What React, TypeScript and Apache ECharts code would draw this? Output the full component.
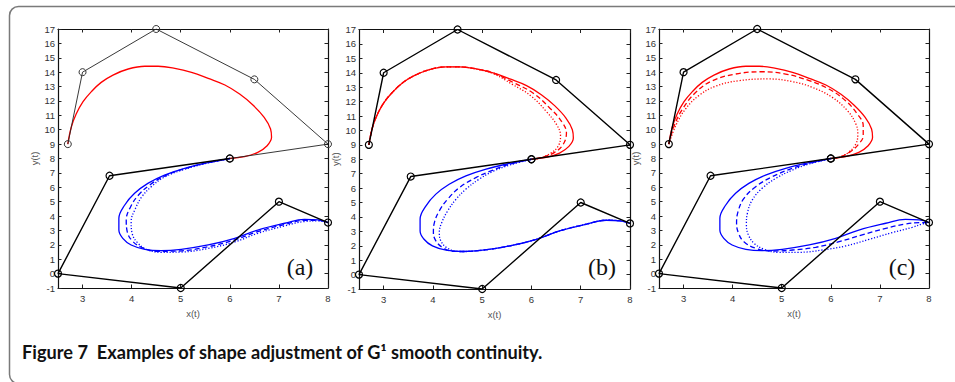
import React, { useEffect, useRef } from "react";
import * as echarts from "echarts";

// ---- data ----
const xTicks = [3, 4, 5, 6, 7, 8];
const panelLabels = ["(a)", "(b)", "(c)"];
const captionText = "Figure 7  Examples of shape adjustment of G¹ smooth continuity.";

const upperPolygon = [[2.7, 9], [3, 14], [4.5, 17], [6.5, 13.5], [8, 9], [6, 8]];
const lowerPolygon = [[6, 8], [3.55, 6.8], [2.5, 0], [5, -1], [7, 5], [8, 3.55]];

const redSolid = [
  [2.7, 9], [2.77, 10.17], [2.87, 11.09], [3.01, 11.95], [3.18, 12.65], [3.38, 13.29],
  [3.62, 13.8], [3.93, 14.22], [4.27, 14.41], [4.54, 14.41], [4.88, 14.27], [5.22, 13.99],
  [5.56, 13.57], [5.9, 13.11], [6.2, 12.48], [6.47, 11.72], [6.7, 10.86], [6.83, 10.05],
  [6.85, 9.47], [6.76, 8.89], [6.57, 8.43], [6.3, 8.13], [6, 8],
];
const redDashedB = [
  [2.7, 9], [2.77, 10.17], [2.87, 11.09], [3.01, 11.95], [3.18, 12.65], [3.38, 13.29],
  [3.62, 13.8], [3.93, 14.22], [4.27, 14.41], [4.54, 14.41], [4.88, 14.27], [5.22, 13.99],
  [5.62, 13.34], [6.03, 12.6], [6.37, 11.56], [6.61, 10.63], [6.71, 9.82], [6.64, 9.01],
  [6.47, 8.48], [6.23, 8.15], [6, 8],
];
const redDottedB = [
  [2.7, 9], [2.77, 10.17], [2.87, 11.09], [3.01, 11.95], [3.18, 12.65], [3.38, 13.29],
  [3.62, 13.8], [3.93, 14.22], [4.27, 14.41], [4.54, 14.41], [4.88, 14.25], [5.22, 13.95],
  [5.62, 13.18], [6.0, 12.37], [6.3, 11.32], [6.51, 10.4], [6.59, 9.63], [6.54, 8.89],
  [6.37, 8.38], [6.17, 8.08], [6, 8],
];
const redDashedC = [
  [2.7, 9], [2.81, 10.28], [2.98, 11.44], [3.25, 12.6], [3.59, 13.41], [4.06, 13.87],
  [4.6, 14.03], [5.08, 13.87], [5.56, 13.41], [5.96, 12.83], [6.3, 12.02], [6.54, 11.09],
  [6.66, 10.28], [6.66, 9.59], [6.57, 9.01], [6.4, 8.48], [6.2, 8.13], [6, 8],
];
const redDottedC = [
  [2.7, 9], [2.84, 10.28], [3.04, 11.44], [3.31, 12.37], [3.65, 13.02], [4.13, 13.41],
  [4.74, 13.53], [5.22, 13.34], [5.62, 12.95], [6.03, 12.25], [6.34, 11.32], [6.51, 10.4],
  [6.55, 9.7], [6.51, 9.01], [6.36, 8.43], [6.17, 8.08], [6, 8],
];

const blueSolid = [
  [6, 8], [5.56, 7.71], [5.08, 7.32], [4.67, 6.85], [4.33, 6.27], [4.06, 5.58], [3.86, 4.77],
  [3.74, 3.84], [3.74, 3.03], [3.82, 2.45], [3.99, 1.99], [4.27, 1.69], [4.6, 1.6],
  [5.01, 1.69], [5.56, 1.99], [6.1, 2.45], [6.57, 3.03], [7.12, 3.5], [7.52, 3.77],
  [7.8, 3.73], [8, 3.55],
];
const blueDashedA = [
  [6, 8], [5.56, 7.71], [5.08, 7.29], [4.67, 6.78], [4.37, 6.16], [4.14, 5.46], [3.98, 4.65],
  [3.89, 3.73], [3.91, 2.92], [4.01, 2.29], [4.2, 1.83], [4.5, 1.55], [4.94, 1.57],
  [5.56, 1.87], [6.1, 2.34], [6.57, 2.92], [7.12, 3.42], [7.52, 3.71], [7.8, 3.7], [8, 3.55],
];
const blueDottedA = [
  [6, 8], [5.56, 7.69], [5.08, 7.25], [4.67, 6.71], [4.4, 6.04], [4.21, 5.35], [4.08, 4.54],
  [3.99, 3.61], [4.01, 2.8], [4.12, 2.15], [4.3, 1.69], [4.6, 1.48], [5.01, 1.5],
  [5.56, 1.75], [6.1, 2.2], [6.57, 2.8], [7.12, 3.32], [7.52, 3.62], [7.8, 3.66], [8, 3.55],
];
const blueDashedB = [
  [6, 8], [5.56, 7.66], [5.22, 7.25], [4.88, 6.74], [4.54, 6.04], [4.3, 5.23], [4.13, 4.42],
  [4.03, 3.61], [4.01, 2.92], [4.06, 2.34], [4.2, 1.87], [4.4, 1.62], [4.6, 1.6],
  [5.01, 1.69], [5.56, 1.99], [6.1, 2.45], [6.57, 3.03], [7.12, 3.5], [7.52, 3.77],
  [7.8, 3.73], [8, 3.55],
];
const blueDottedB = [
  [6, 8], [5.56, 7.6], [5.22, 7.16], [4.94, 6.62], [4.67, 5.93], [4.47, 5.23], [4.3, 4.42],
  [4.18, 3.61], [4.13, 2.92], [4.16, 2.34], [4.28, 1.87], [4.47, 1.62], [4.6, 1.6],
  [5.01, 1.69], [5.56, 1.99], [6.1, 2.45], [6.57, 3.03], [7.12, 3.5], [7.52, 3.77],
  [7.8, 3.73], [8, 3.55],
];
const blueDashedC = [
  [6, 8], [5.56, 7.66], [5.22, 7.32], [4.81, 6.74], [4.47, 6.04], [4.23, 5.23], [4.11, 4.31],
  [4.08, 3.5], [4.12, 2.8], [4.23, 2.22], [4.47, 1.76], [4.81, 1.57], [5.22, 1.64],
  [5.69, 1.83], [6.17, 2.22], [6.64, 2.69], [7.12, 3.15], [7.52, 3.45], [7.8, 3.54], [8, 3.55],
];
const blueDottedC = [
  [6, 8], [5.56, 7.62], [5.22, 7.2], [4.88, 6.62], [4.6, 5.93], [4.4, 5.12], [4.3, 4.19],
  [4.28, 3.38], [4.32, 2.69], [4.44, 2.1], [4.64, 1.69], [4.94, 1.48], [5.35, 1.48],
  [5.83, 1.64], [6.3, 1.92], [6.78, 2.38], [7.25, 2.85], [7.66, 3.22], [7.86, 3.45], [8, 3.55],
];

const panelCurves = [
  { red: [redSolid], blue: [blueSolid, blueDashedA, blueDottedA] },
  { red: [redSolid, redDashedB, redDottedB], blue: [blueSolid, blueDashedB, blueDottedB] },
  { red: [redSolid, redDashedC, redDottedC], blue: [blueSolid, blueDashedC, blueDottedC] },
];

// ---- layout ----
const grids = [
  { left: 58, top: 29, width: 270, height: 259 },
  { left: 359, top: 29.5, width: 271, height: 259.5 },
  { left: 659, top: 29, width: 270, height: 259 },
];
const labelPos = [
  [300, 267],
  [602, 267],
  [902, 267],
];

const tickFont = "'Liberation Sans', Arial, sans-serif";
const dashStyles: any[] = ["solid", [5, 3], [1.2, 1.8]];

export default function App() {
  const ref = useRef<HTMLDivElement>(null);
  useEffect(() => {
    document.body.style.margin = "0";
    if (!ref.current) return;
    const chart = echarts.init(ref.current, undefined, { renderer: "svg" });

    const xAxis: any[] = [];
    const yAxis: any[] = [];
    const series: any[] = [];
    grids.forEach((g, i) => {
      const axLine = { show: true, onZero: false, lineStyle: { color: "#111", width: 1.2 } };
      xAxis.push({
        type: "value", gridIndex: i, min: 2.5, max: 8, position: "bottom",
        splitLine: { show: false }, axisLine: axLine,
        axisTick: { show: true, inside: true, length: 3.5, customValues: xTicks, lineStyle: { color: "#222" } },
        axisLabel: { show: true, customValues: xTicks, margin: 5, fontSize: 9.5, color: "#333", fontFamily: tickFont },
        name: "x(t)", nameLocation: "middle", nameGap: 20,
        nameTextStyle: { fontSize: 9.5, color: "#555", fontFamily: tickFont },
      });
      xAxis.push({
        type: "value", gridIndex: i, min: 2.5, max: 8, position: "top",
        splitLine: { show: false }, axisLine: axLine,
        axisTick: { show: true, inside: true, length: 3.5, customValues: xTicks, lineStyle: { color: "#222" } },
        axisLabel: { show: false },
      });
      yAxis.push({
        type: "value", gridIndex: i, min: -1, max: 17, interval: 1, position: "left",
        splitLine: { show: false }, axisLine: axLine,
        axisTick: { show: true, inside: true, length: 3.5, lineStyle: { color: "#222" } },
        axisLabel: { show: true, margin: 3, fontSize: 9.5, color: "#333", fontFamily: tickFont },
        name: "y(t)", nameLocation: "middle", nameGap: 19,
        nameTextStyle: { fontSize: 9.5, color: "#555", fontFamily: tickFont },
      });
      yAxis.push({
        type: "value", gridIndex: i, min: -1, max: 17, interval: 1, position: "right",
        splitLine: { show: false }, axisLine: axLine,
        axisTick: { show: true, inside: true, length: 3.5, lineStyle: { color: "#222" } },
        axisLabel: { show: false },
      });
      const xi = i * 2;
      const yi = i * 2;
      const marker = {
        symbol: "circle", symbolSize: 7, showSymbol: true,
        itemStyle: { color: "rgba(0,0,0,0)", borderColor: "#000", borderWidth: 1.2 },
      };
      series.push({
        type: "line", xAxisIndex: xi, yAxisIndex: yi, data: upperPolygon, z: 3,
        ...marker,
        itemStyle: { ...marker.itemStyle, borderColor: i === 0 ? "#333" : "#000", borderWidth: i === 0 ? 1 : 1.2 },
        lineStyle: { color: i === 0 ? "#222" : "#000", width: i === 0 ? 0.9 : 1.4 },
      });
      series.push({
        type: "line", xAxisIndex: xi, yAxisIndex: yi, data: lowerPolygon, z: 3,
        ...marker,
        lineStyle: { color: "#000", width: 1.4 },
      });
      const pc = panelCurves[i];
      pc.red.forEach((d, k) => {
        series.push({
          type: "line", xAxisIndex: xi, yAxisIndex: yi, data: d, smooth: 0.4, showSymbol: false, symbol: "none", z: 2,
          lineStyle: { color: "#ff0000", width: 1.3, type: dashStyles[k] },
        });
      });
      pc.blue.forEach((d, k) => {
        series.push({
          type: "line", xAxisIndex: xi, yAxisIndex: yi, data: d, smooth: 0.4, showSymbol: false, symbol: "none", z: 2,
          lineStyle: { color: "#0000ff", width: 1.3, type: dashStyles[k] },
        });
      });
    });

    const graphic: any[] = [
      {
        type: "rect", left: 7, top: 4, z: -1, silent: true,
        shape: { x: 0, y: 0, width: 1000, height: 377, r: 9 },
        style: { fill: "none", stroke: "#7a7a7a", lineWidth: 1.5 },
      },
      {
        type: "text", x: 22, y: 352, silent: true,
        style: {
          text: captionText, fill: "#111", fontSize: 18.2, fontWeight: "bold",
          fontFamily: "Lato, 'Open Sans', sans-serif",
          verticalAlign: "middle", align: "left",
        },
      },
    ];
    panelLabels.forEach((t, i) => {
      graphic.push({
        type: "text", x: labelPos[i][0], y: labelPos[i][1], silent: true,
        style: {
          text: t, fill: "#111", fontSize: 24,
          fontFamily: "'Liberation Serif', 'DejaVu Serif', serif",
          align: "center", verticalAlign: "middle",
        },
      });
    });

    chart.setOption({
      animation: false,
      backgroundColor: "#fff",
      grid: grids.map((g) => ({ ...g, containLabel: false })),
      xAxis,
      yAxis,
      series,
      graphic,
    });
    return () => chart.dispose();
  }, []);
  return <div ref={ref} style={{ width: 955, height: 382 }} />;
}
